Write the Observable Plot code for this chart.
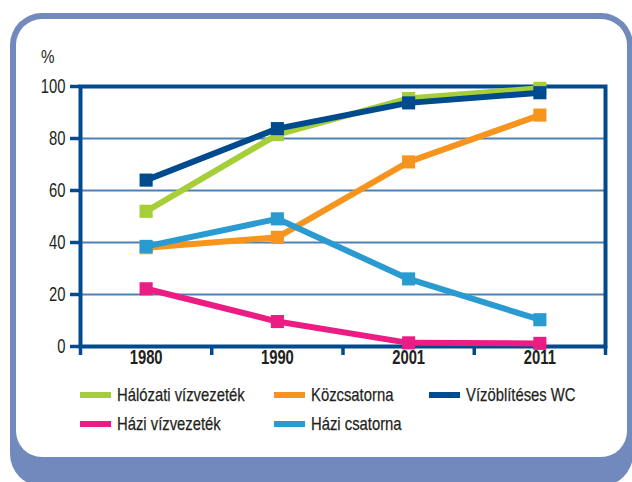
<!DOCTYPE html>
<html>
<head>
<meta charset="utf-8">
<script src="https://cdn.jsdelivr.net/npm/d3@7"></script>
<script src="https://cdn.jsdelivr.net/npm/@observablehq/plot@0.6"></script>
<style>
  html, body { margin: 0; padding: 0; background: #fff; }
  body { width: 632px; height: 482px; position: relative; overflow: hidden;
         font-family: "Liberation Sans", Arial, sans-serif; color: #231f20; }
  .outer { position: absolute; left: 10px; top: 13px; width: 623px; height: 473px; background: #7289bd; border-radius: 32px; }
  .inner { position: absolute; left: 16px; top: 19px; width: 611px; height: 438px; background: #fff; border-radius: 26px; }
  #chart { position: absolute; left: 0; top: 0; }
  #chart svg { overflow: visible; }
  .pct { position: absolute; left: 41px; top: 46px; font-size: 19px; transform: scaleX(0.8); transform-origin: left center; }
  .legend { position: absolute; left: 80px; top: 380px; display: grid;
            grid-template-columns: 194px 155px auto; grid-auto-rows: 29px; font-size: 19px; }
  .item { display: flex; align-items: center; white-space: nowrap; }
  .sw { display: inline-block; width: 31px; height: 6px; margin-right: 6px; flex: none; }
  .lt { display: inline-block; transform: scaleX(0.78); transform-origin: left center; -webkit-text-stroke: 0.25px #231f20; }
  svg g[aria-label="y-axis tick"], svg g[aria-label="x-axis tick"] { stroke: #004b8d; stroke-width: 3.5px; }
  svg .tick line { stroke: #004b8d; stroke-width: 3.5px; }
  svg g[aria-label="y-axis domain"], svg g[aria-label="x-axis domain"], svg .domain { display: none; }
</style>
</head>
<body>
<div class="outer"></div>
<div class="inner"></div>
<div id="chart"></div>
<div class="pct">%</div>
<div class="legend" id="legend"></div>
<script>
const years = ["1980", "1990", "2001", "2011"];
const seriesNames = ["Hálózati vízvezeték", "Közcsatorna", "Vízöblítéses WC", "Házi vízvezeték", "Házi csatorna"];
const seriesColors = ["#a6ce39", "#f7941d", "#004b8d", "#ec1c85", "#2a9bd1"];
const halozatiVizvezetek = [52, 81.5, 95.4, 99.3];
const kozcsatorna = [38, 42, 71, 89];
const vizoblitesesWC = [64, 83.8, 93.7, 97.6];
const haziVizvezetek = [22.2, 9.6, 1.4, 1.2];
const haziCsatorna = [38.5, 49.1, 26, 10.3];
const yTicks = [0, 20, 40, 60, 80, 100];
const gridValues = [20, 40, 60, 80];

const seriesValues = [halozatiVizvezetek, kozcsatorna, vizoblitesesWC, haziVizvezetek, haziCsatorna];
const xBounds = d3.range(years.length + 1).map(i => i - 0.5);

const marks = [
  Plot.ruleY(gridValues, {stroke: "#4f81b3", strokeWidth: 2}),
  Plot.frame({stroke: "#004b8d", strokeWidth: 4})
];
seriesNames.forEach((name, s) => {
  const rows = years.map((yr, i) => ({i, value: seriesValues[s][i], series: name}));
  marks.push(Plot.line(rows, {x: "i", y: "value", stroke: "series", strokeWidth: 6, strokeLinejoin: "miter", strokeLinecap: "butt"}));
  marks.push(Plot.dot(rows, {x: "i", y: "value", fill: "series", symbol: "square", r: 7.4, stroke: "none"}));
});
marks.push(Plot.text(years, {x: (d, i) => i, frameAnchor: "bottom", dy: 17, text: d => d,
  fontSize: 19.5, fontWeight: "bold", fill: "#231f20"}));

const chart = Plot.plot({
  width: 632,
  height: 380,
  marginLeft: 80,
  marginRight: 27,
  marginTop: 86,
  marginBottom: 34,
  style: {background: "transparent", fontFamily: "'Liberation Sans', Arial, sans-serif", fontSize: "19.5px", color: "#231f20"},
  x: {type: "linear", domain: [-0.5, years.length - 0.5], ticks: xBounds, tickFormat: () => "", tickSize: 9, label: null},
  y: {domain: [0, 100], ticks: yTicks, tickSize: 10, tickPadding: 5, label: null},
  color: {domain: seriesNames, range: seriesColors},
  marks
});
document.getElementById("chart").appendChild(chart);

// condense SVG text to mimic a narrow typeface
chart.querySelectorAll("text").forEach(el => {
  if (!el.textContent.trim()) return;
  const len = el.getComputedTextLength();
  if (len > 0) {
    el.setAttribute("textLength", (len * 0.76).toFixed(2));
    el.setAttribute("lengthAdjust", "spacingAndGlyphs");
  }
});

const legend = document.getElementById("legend");
seriesNames.forEach((name, s) => {
  const it = document.createElement("div");
  it.className = "item";
  const sw = document.createElement("span");
  sw.className = "sw";
  sw.style.background = seriesColors[s];
  const tx = document.createElement("span");
  tx.className = "lt";
  tx.textContent = name;
  it.appendChild(sw);
  it.appendChild(tx);
  legend.appendChild(it);
});
</script>
</body>
</html>
